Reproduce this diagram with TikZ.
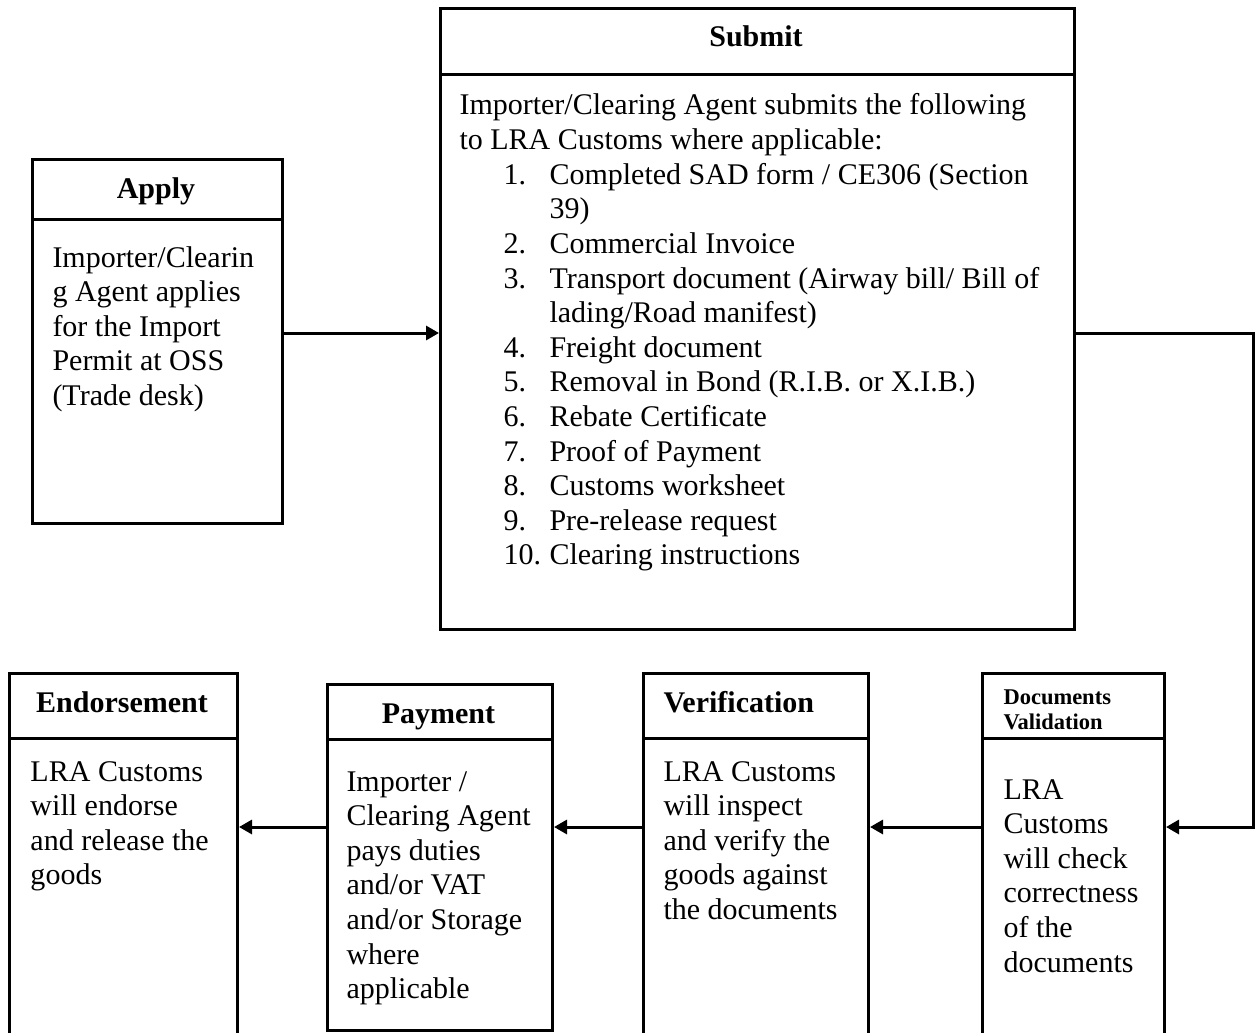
\documentclass[tikz,border=0pt]{standalone}
\usepackage{fontspec}
\setmainfont{Liberation Serif}
\frenchspacing
\usetikzlibrary{arrows.meta}
\begin{document}
\begin{tikzpicture}[x=0.4pt,y=-0.4pt,
  boxframe/.style={draw, line width=1.2pt, inner sep=0pt, anchor=north west},
  ttl/.style={font=\bfseries\fontsize{12}{13.84}\selectfont, inner sep=0pt},
  smallttl/.style={font=\bfseries\fontsize{9}{10}\selectfont, inner sep=0pt, align=left, anchor=base west},
  bodytxt/.style={font=\fontsize{12}{13.84}\selectfont, inner sep=0pt, align=left, anchor=base west,
    execute at begin node={\spaceskip=3pt\relax}},
  linkarrow/.style={line width=1.2pt, -{Triangle[length=5.2pt,width=5.6pt]}}
]
\useasboundingbox (0,0) rectangle (1257,1032);

% Apply
\node[boxframe, minimum width=100pt, minimum height=24pt] (applyh) at (31,158) {};
\node[boxframe, minimum width=100pt, minimum height=121.6pt] (applyb) at (31,218) {};
\node[ttl, anchor=base] (applyt) at (156,199) {Apply};
\node[bodytxt, text width=95pt] (applyx) at (52,267) {Importer/Clearin\\g Agent applies\\for the Import\\Permit at OSS\\(Trade desk)};

% Submit
\node[boxframe, minimum width=253.6pt, minimum height=26.4pt] (subh) at (439,7) {};
\node[boxframe, minimum width=253.6pt, minimum height=222pt] (subb) at (439,73) {};
\node[ttl, anchor=base] (subt) at (756,47) {Submit};
\node[bodytxt, text width=245pt] (subx) at (459,115) {Importer/Clearing Agent submits the following\\
to LRA Customs where applicable:\\
\hspace*{17.6pt}\makebox[18.4pt][l]{1.}Completed SAD form / CE306 (Section\\
\hspace*{36pt}39)\\
\hspace*{17.6pt}\makebox[18.4pt][l]{2.}Commercial Invoice\\
\hspace*{17.6pt}\makebox[18.4pt][l]{3.}Transport document (Airway bill/ Bill of\\
\hspace*{36pt}lading/Road manifest)\\
\hspace*{17.6pt}\makebox[18.4pt][l]{4.}Freight document\\
\hspace*{17.6pt}\makebox[18.4pt][l]{5.}Removal in Bond (R.I.B. or X.I.B.)\\
\hspace*{17.6pt}\makebox[18.4pt][l]{6.}Rebate Certificate\\
\hspace*{17.6pt}\makebox[18.4pt][l]{7.}Proof of Payment\\
\hspace*{17.6pt}\makebox[18.4pt][l]{8.}Customs worksheet\\
\hspace*{17.6pt}\makebox[18.4pt][l]{9.}Pre-release request\\
\hspace*{17.6pt}\makebox[18.4pt][l]{10.}Clearing instructions};

% Endorsement
\node[boxframe, minimum width=91.2pt, minimum height=26pt] (endh) at (8,672) {};
\node[boxframe, minimum width=91.2pt, minimum height=121.2pt] (endb) at (8,737) {};
\node[ttl, anchor=base] (endt) at (122,712) {Endorsement};
\node[bodytxt, text width=85pt] (endx) at (30,781) {LRA Customs\\will endorse\\and release the\\goods};

% Payment
\node[boxframe, minimum width=90pt, minimum height=22pt] (payh) at (326,683) {};
\node[boxframe, minimum width=90pt, minimum height=116.4pt] (payb) at (326,738) {};
\node[ttl, anchor=base] (payt) at (438.5,723) {Payment};
\node[bodytxt, text width=85pt] (payx) at (346,791) {Importer /\\Clearing Agent\\pays duties\\and/or VAT\\and/or Storage\\where\\applicable};

% Verification
\node[boxframe, minimum width=90pt, minimum height=26pt] (verh) at (642,672) {};
\node[boxframe, minimum width=90pt, minimum height=121.2pt] (verb) at (642,737) {};
\node[ttl, anchor=base west] (vert) at (663,712) {Verification};
\node[bodytxt, text width=85pt] (verx) at (663,781) {LRA Customs\\will inspect\\and verify the\\goods against\\the documents};

% Documents Validation
\node[boxframe, minimum width=72.8pt, minimum height=26pt] (dvh) at (981,672) {};
\node[boxframe, minimum width=72.8pt, minimum height=121.2pt] (dvb) at (981,737) {};
\node[smallttl, text width=62pt] (dvt) at (1003,704.5) {Documents\\Validation};
\node[bodytxt, text width=62pt] (dvx) at (1003,799) {LRA\\Customs\\will check\\correctness\\of the\\documents};

% connectors
\coordinate (ytop) at (0,333);
\coordinate (ybot) at (0,827);
\coordinate (rturn) at (1253,333);
\draw[linkarrow] (applyb.east |- ytop) -- (subb.west |- ytop);
\draw[linkarrow] (subb.east |- ytop) -- (rturn) |- (dvb.east |- ybot);
\draw[linkarrow] (dvb.west |- ybot) -- (verb.east |- ybot);
\draw[linkarrow] (verb.west |- ybot) -- (payb.east |- ybot);
\draw[linkarrow] (payb.west |- ybot) -- (endb.east |- ybot);
\end{tikzpicture}
\end{document}
